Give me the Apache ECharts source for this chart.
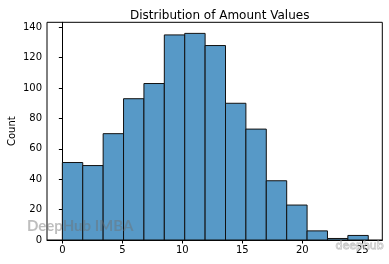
<!DOCTYPE html><html><head><meta charset="utf-8">
<script src="https://cdn.jsdelivr.net/npm/echarts@6/dist/echarts.min.js"></script>
<style>html,body{margin:0;padding:0;background:#fff}#c{width:389px;height:264px}</style></head>
<body><div id="c"></div><script>
const binStart = 0, binWidth = 1.7;
const counts = [51, 49, 70, 93, 103, 135, 136, 128, 90, 73, 39, 23, 6, 1, 3];
const xTicks = [0, 5, 10, 15, 20, 25];
const yTicks = [0, 20, 40, 60, 80, 100, 120, 140];
const titleText = 'Distribution of Amount Values';
const yName = 'Count';
const watermark1 = 'DeepHub IMBA';
const watermark2 = 'deephub';

const data = counts.map((c, i) => [binStart + i * binWidth, binStart + (i + 1) * binWidth, c]);
const F = 'DejaVu Sans';
const chart = echarts.init(document.getElementById('c'), null, {renderer: 'canvas'});
chart.setOption({
  animation: false,
  backgroundColor: '#fff',
  title: {text: titleText, left: 214.7, top: 5, textAlign: 'center',
    textStyle: {fontFamily: F, fontSize: 12, fontWeight: 'normal', color: '#000'}},
  grid: {left: 47, right: 6.7, top: 22.3, bottom: 24, outerBoundsMode: 'none', containLabel: false,
    show: true, borderColor: '#000', borderWidth: 1, backgroundColor: 'transparent'},
  xAxis: {type: 'value', min: -1.28, max: 26.67,
    axisLine: {show: true, onZero: false, lineStyle: {color: '#000', width: 1}},
    axisTick: {show: true, length: 3.5, customValues: xTicks, lineStyle: {color: '#000'}},
    axisLabel: {customValues: xTicks, fontFamily: F, fontSize: 10, color: '#000', margin: 5},
    splitLine: {show: false}},
  yAxis: {type: 'value', min: 0, max: 143.3,
    name: yName, nameLocation: 'middle', nameRotate: 90, nameGap: 30, nameMoveOverlap: false,
    nameTextStyle: {fontFamily: F, fontSize: 10, color: '#000'},
    axisLine: {show: true, lineStyle: {color: '#000', width: 1}},
    axisTick: {show: true, length: 3.5, customValues: yTicks, lineStyle: {color: '#000'}},
    axisLabel: {customValues: yTicks, fontFamily: F, fontSize: 10, color: '#000', margin: 5},
    splitLine: {show: false}},
  series: [{
    type: 'custom', data: data, encode: {x: [0, 1], y: 2},
    renderItem: function (params, api) {
      const p0 = api.coord([api.value(0), 0]);
      const p1 = api.coord([api.value(1), api.value(2)]);
      return {type: 'rect', shape: {x: p0[0], y: p1[1], width: p1[0] - p0[0], height: p0[1] - p1[1]},
        style: {fill: '#5799c7', stroke: '#111', lineWidth: 1}};
    }
  }],
  graphic: [
    {type: 'text', left: 27, top: 219, z: 100, style: {text: watermark1, fontFamily: 'Lato', fontWeight: 'bold', fontSize: 15, fill: 'rgba(110,110,110,0.45)'}},
    {type: 'text', left: 335, top: 240, z: 100, style: {text: watermark2, fontFamily: 'DejaVu Sans', fontSize: 11, fill: 'rgba(255,255,255,0.3)', stroke: 'rgba(170,170,170,0.8)', lineWidth: 0.8}}
  ]
});
</script></body></html>
